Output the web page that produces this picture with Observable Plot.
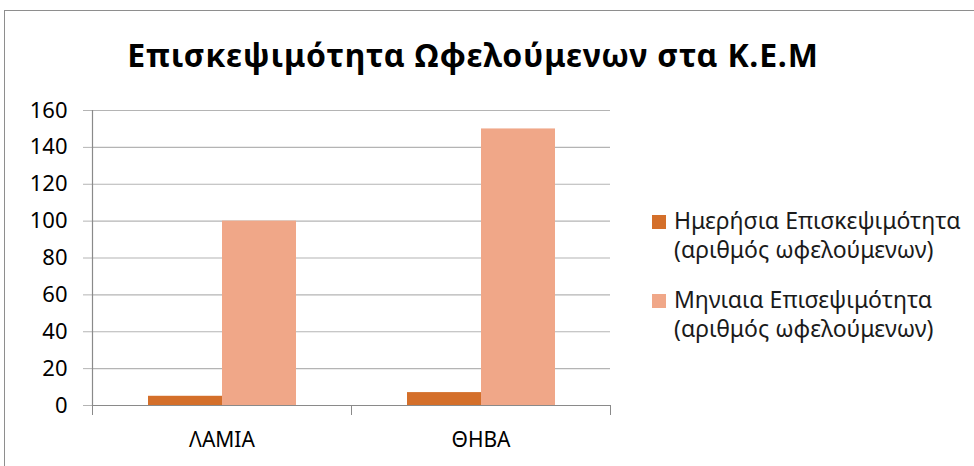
<!DOCTYPE html>
<html><head><meta charset="utf-8">
<script src="https://cdn.jsdelivr.net/npm/d3@7"></script>
<script src="https://cdn.jsdelivr.net/npm/@observablehq/plot@0.6"></script>
<style>
body{margin:0;background:#fff;font-family:"Noto Sans",sans-serif;}
#wrap{position:relative;width:974px;height:466px;overflow:hidden;background:#fff;}
#border{position:absolute;left:4px;top:10px;width:1000px;height:500px;border:1px solid #8e8e8e;}
#title{position:absolute;left:0;width:946px;top:35px;text-align:center;font-weight:bold;font-size:32px;letter-spacing:0.8px;line-height:40px;color:#000;white-space:nowrap;}
#chart{position:absolute;left:0;top:0;}
#legend{position:absolute;left:652px;top:206px;font-size:23px;line-height:29px;color:#1a1a1a;}
.item{position:relative;padding-left:22px;white-space:pre-line;margin-bottom:21px;}
.sw{position:absolute;left:0;top:9px;width:14px;height:14px;}
</style></head>
<body>
<div id="wrap">
<div id="border"></div>
<div id="title"></div>
<div id="chart"></div>
<div id="legend"></div>
</div>
<script>
const title = "Επισκεψιμότητα Ωφελούμενων στα Κ.Ε.Μ";
const categories = ["ΛΑΜΙΑ", "ΘΗΒΑ"];
const seriesNames = ["Ημερήσια Επισκεψιμότητα\n(αριθμός ωφελούμενων)", "Μηνιαια Επισεψιμότητα\n(αριθμός ωφελούμενων)"];
const dailyValues = [5, 7];
const monthlyValues = [100, 150];
const seriesColors = ["#D46F2A", "#F0A788"];
const yTicks = [0, 20, 40, 60, 80, 100, 120, 140, 160];

const seriesValues = [dailyValues, monthlyValues];
const table = [];
categories.forEach((c, i) => seriesNames.forEach((s, j) => table.push({category: c, series: s, value: seriesValues[j][i]})));

document.getElementById("title").textContent = title;

const W = 974, H = 466, mL = 92, mR = 364, mT = 110, mB = 61;
const bandW = (W - mL - mR) / categories.length;
const gridColor = "#b4b4b4";

const chart = Plot.plot({
  width: W, height: H,
  marginLeft: mL, marginRight: mR, marginTop: mT, marginBottom: mB,
  style: {fontFamily: "Noto Sans, sans-serif", fontSize: "21px", background: "transparent", overflow: "visible"},
  fx: {domain: categories, padding: 0, label: null, axis: null},
  x: {domain: seriesNames, paddingInner: 0, paddingOuter: 0.75, axis: null},
  y: {domain: [0, 160], axis: null},
  color: {domain: seriesNames, range: seriesColors},
  marks: [
    Plot.gridY(yTicks, {stroke: gridColor, strokeOpacity: 1, strokeWidth: 1.2}),
    Plot.axisY(yTicks, {tickSize: 9, tickPadding: 16, stroke: gridColor, fill: "#000", fontSize: 22, label: null}),
    Plot.barY(table, {fx: "category", x: "series", y: "value", fill: "series"}),
    Plot.ruleY([0], {stroke: "#8a8a8a", strokeWidth: 1.2}),
    Plot.frame({anchor: "left", facetAnchor: "left", stroke: "#8a8a8a", strokeWidth: 1.2}),
    Plot.axisFx({anchor: "bottom", tickSize: 0, tickPadding: 27, fontSize: 21, fill: "#000", label: null}),
    Plot.axisFx({anchor: "bottom", tickSize: 10, tickFormat: () => "", stroke: "#8a8a8a", dx: -bandW / 2, label: null}),
    Plot.axisFx({anchor: "bottom", tickSize: 10, tickFormat: () => "", stroke: "#8a8a8a", dx: bandW / 2, label: null})
  ]
});
document.getElementById("chart").appendChild(chart);

const legend = document.getElementById("legend");
seriesNames.forEach((s, j) => {
  const it = document.createElement("div");
  it.className = "item";
  const sw = document.createElement("span");
  sw.className = "sw";
  sw.style.background = seriesColors[j];
  it.appendChild(sw);
  it.appendChild(document.createTextNode(s));
  legend.appendChild(it);
});
</script>
</body></html>
